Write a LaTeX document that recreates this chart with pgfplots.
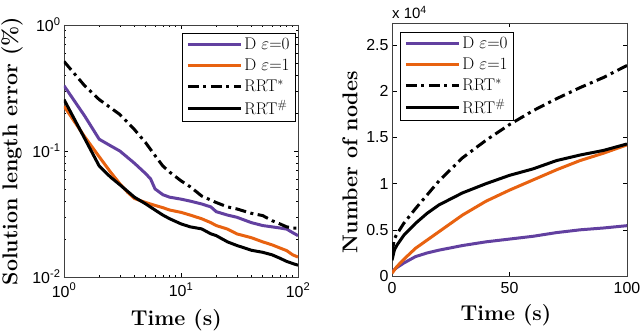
\documentclass[border=0pt]{standalone}
\usepackage{fontspec}
\usepackage{pgfplots}
\pgfplotsset{compat=1.18}
\newfontfamily\tickfont{Liberation Sans}
\definecolor{dpurple}{RGB}{98,64,160}
\definecolor{dorange}{RGB}{232,98,16}

\pgfplotsset{
  mstyle/.style={
    scale only axis,
    axis line style={black!75, line width=0.8bp},
    tick align=inside,
    tick style={black, line width=0.6bp},
    major tick length=4.5bp, minor tick length=2.5bp,
    ticklabel style={font=\tickfont\fontsize{16}{18}\selectfont},
    xticklabel style={yshift=-2.5bp},
    /pgf/number format/assume math mode=true,
    label style={font=\fontsize{21.5}{25}\selectfont\bfseries},
    legend style={font=\fontsize{17}{19}\selectfont, draw=black, line width=0.6bp,
      inner xsep=4bp, inner ysep=3bp, row sep=3.5bp},
    legend cell align=left,
    every axis plot/.append style={line width=3bp},
    legend image code/.code={\draw[##1] (0bp,0bp) -- (53bp,0bp);},
  },
  dashdot/.style={black, dash pattern=on 11bp off 4.5bp on 3bp off 4.5bp},
}

\begin{document}
\begin{tikzpicture}
\path[use as bounding box] (0,0) rectangle (640bp,334bp);

% left: solution length error
\begin{axis}[mstyle,
  at={(64bp,57bp)}, anchor=south west,
  width=234bp, height=252bp,
  xmode=log, ymode=log,
  xmin=1, xmax=100, ymin=0.01, ymax=1,
  xtick={1,10,100}, xticklabels={10\textsuperscript{0},10\textsuperscript{1},10\textsuperscript{2}},
  ytick={0.01,0.1,1}, yticklabels={10\textsuperscript{-2},10\textsuperscript{-1},10\textsuperscript{0}},
  xlabel={Time (s)}, ylabel={Solution length error (\%)},
  xlabel style={at={(axis description cs:0.48,-0.171)}, anchor=center},
  ylabel style={at={(axis description cs:-0.222,0.5)}, anchor=center},
  legend style={at={(axis description cs:0.991,0.968)}, anchor=north east},
]
\addplot[dpurple] coordinates {
 (1,0.33) (1.5,0.19) (2,0.124) (2.5,0.11) (3,0.1) (4,0.08) (5,0.066) (5.5,0.06)
 (6,0.05) (7,0.045) (8,0.043) (10,0.0415) (12,0.04) (15,0.038) (18,0.036) (20,0.033)
 (25,0.031) (30,0.0298) (40,0.027) (50,0.0256) (60,0.025) (70,0.0245) (80,0.024)
 (90,0.0225) (100,0.0213)
};
\addlegendentry{D $\varepsilon{=}0$}
\addplot[dorange] coordinates {
 (1,0.227) (1.5,0.13) (2,0.09) (2.5,0.068) (3,0.055) (3.5,0.047) (4,0.042) (5,0.039)
 (6,0.037) (7,0.0355) (8,0.034) (10,0.0326) (12,0.031) (15,0.029) (18,0.027) (20,0.0256)
 (25,0.024) (30,0.022) (40,0.0205) (50,0.019) (60,0.018) (70,0.017) (80,0.0162)
 (90,0.015) (100,0.0144)
};
\addlegendentry{D $\varepsilon{=}1$}
\addplot[dashdot] coordinates {
 (1,0.514) (1.5,0.33) (2,0.256) (3,0.195) (4,0.148) (5,0.116) (6,0.092) (7,0.076)
 (8,0.068) (10,0.058) (12,0.052) (15,0.044) (20,0.039) (25,0.036) (30,0.0347)
 (40,0.032) (50,0.0307) (60,0.028) (70,0.0264) (80,0.025) (90,0.0245) (100,0.0244)
};
\addlegendentry{RRT$^{*}$}
\addplot[black] coordinates {
 (1,0.256) (1.5,0.126) (2,0.076) (2.5,0.062) (3,0.054) (4,0.043) (5,0.038) (6,0.034)
 (7,0.031) (8,0.029) (10,0.0264) (12,0.025) (15,0.0241) (18,0.022) (20,0.0213)
 (25,0.019) (30,0.0178) (40,0.0163) (50,0.0157) (60,0.015) (70,0.0141) (80,0.0133)
 (90,0.0128) (100,0.0124)
};
\addlegendentry{RRT$^{\#}$}
\end{axis}

% right: number of nodes (x 10^4)
\begin{axis}[mstyle, name=R,
  at={(392bp,58bp)}, anchor=south west,
  width=235bp, height=253bp,
  xmin=0, xmax=100, ymin=0, ymax=2.74,
  xtick={0,50,100}, ytick={0,0.5,1,1.5,2,2.5},
  xlabel={Time (s)}, ylabel={Number of nodes},
  xlabel style={at={(axis description cs:0.485,-0.154)}, anchor=center},
  ylabel style={at={(axis description cs:-0.179,0.45)}, anchor=center},
  legend style={at={(axis description cs:0.034,0.964)}, anchor=north west},
]
\addplot[dpurple] coordinates {
 (0,0.04) (1,0.07) (2,0.09) (5,0.14) (10,0.21) (15,0.25) (20,0.28) (30,0.33)
 (40,0.37) (50,0.40) (60,0.43) (70,0.47) (80,0.50) (90,0.52) (100,0.545)
};
\addlegendentry{D $\varepsilon{=}0$}
\addplot[dorange] coordinates {
 (0,0.03) (2,0.1) (5,0.18) (10,0.3) (15,0.39) (20,0.48) (30,0.66) (40,0.81)
 (50,0.93) (60,1.04) (70,1.15) (80,1.25) (90,1.33) (100,1.42)
};
\addlegendentry{D $\varepsilon{=}1$}
\addplot[dashdot] coordinates {
 (0,0.25) (1,0.4) (2,0.45) (5,0.57) (10,0.73) (15,0.88) (20,1.03) (30,1.28)
 (40,1.47) (50,1.64) (60,1.79) (70,1.92) (80,2.04) (90,2.15) (100,2.28)
};
\addlegendentry{RRT$^{*}$}
\addplot[black] coordinates {
 (0,0.17) (1,0.28) (2,0.33) (5,0.44) (10,0.57) (15,0.68) (20,0.77) (30,0.9)
 (40,1.0) (50,1.09) (60,1.16) (70,1.25) (80,1.31) (90,1.36) (100,1.43)
};
\addlegendentry{RRT$^{\#}$}
\end{axis}
\node[anchor=south west, inner sep=0pt, font=\tickfont\fontsize{15}{17}\selectfont]
  at ([yshift=4bp]R.north west) {x 10\textsuperscript{4}};
\end{tikzpicture}
\end{document}
